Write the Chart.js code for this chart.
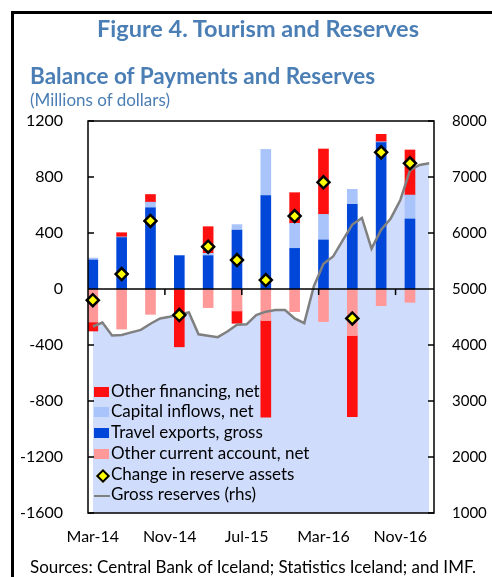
<!DOCTYPE html>
<html>
<head>
<meta charset="utf-8">
<script src="https://cdn.jsdelivr.net/npm/chart.js@4.4.1/dist/chart.umd.min.js"></script>
<style>
  html, body { margin: 0; padding: 0; background: #fff; }
  body { width: 492px; height: 577px; position: relative; overflow: hidden; font-family: Lato, sans-serif; }
  #frame { position: absolute; left: 11px; top: 11px; width: 600px; height: 700px; border-left: 3px solid #000; border-top: 3px solid #000; box-sizing: border-box; }
  #wrap { position: absolute; left: 0; top: 0; width: 492px; height: 577px; }
  .txt { position: absolute; white-space: nowrap; color: #4a7eb4; line-height: 1.2; }
  #title { left: 0; width: 516px; text-align: center; top: 14px; font-size: 23.5px; font-weight: 700; }
  #subtitle { left: 30px; top: 61.5px; font-size: 22.5px; font-weight: 700; }
  #units { left: 30px; top: 89.5px; font-size: 17px; }
  #source { left: 30px; top: 557px; font-size: 17px; color: #000; }
  #legend { position: absolute; left: 94px; top: 0; }
  .row { position: absolute; left: 0; height: 20px; line-height: 20px; font-size: 17px; color: #000; white-space: nowrap; padding-left: 17px; }
  .mk { position: absolute; left: 0; }
</style>
</head>
<body>
<div id="frame"></div>
<div id="wrap"><canvas id="bop-chart"></canvas></div>
<div class="txt" id="title">Figure 4. Tourism and Reserves</div>
<div class="txt" id="subtitle">Balance of Payments and Reserves</div>
<div class="txt" id="units">(Millions of dollars)</div>
<div class="txt" id="source">Sources: Central Bank of Iceland; Statistics Iceland; and IMF.</div>
<div id="legend"></div>
<script>
const months = ['Mar-14', 'Apr-14', 'May-14', 'Jun-14', 'Jul-14', 'Aug-14', 'Sep-14', 'Oct-14', 'Nov-14', 'Dec-14', 'Jan-15', 'Feb-15',
  'Mar-15', 'Apr-15', 'May-15', 'Jun-15', 'Jul-15', 'Aug-15', 'Sep-15', 'Oct-15', 'Nov-15', 'Dec-15', 'Jan-16', 'Feb-16',
  'Mar-16', 'Apr-16', 'May-16', 'Jun-16', 'Jul-16', 'Aug-16', 'Sep-16', 'Oct-16', 'Nov-16', 'Dec-16', 'Jan-17', 'Feb-17'];
const quarters = ['Mar-14', 'Jun-14', 'Sep-14', 'Dec-14', 'Mar-15', 'Jun-15', 'Sep-15', 'Dec-15', 'Mar-16', 'Jun-16', 'Sep-16', 'Dec-16'];

const travelExports = [207, 367, 580, 238, 238, 420, 667, 290, 350, 605, 1045, 500];
const capitalInflows = [14, 5, 40, 0, 17, 40, 330, 179, 183, 107, 7, 171];
const otherCurrent = [-236, -286, -181, -3, -133, -157, -226, -162, -233, -333, -119, -95];
const otherFinancing = [-64, 30, 55, -410, 190, -88, -690, 219, 467, -579, 53, 322];
const reserveChange = [-80, 107, 486, -186, 302, 207, 64, 521, 762, -210, 976, 898];
const grossReserves = [4330, 4400, 4170, 4180, 4225, 4270, 4380, 4475, 4505, 4550, 4580, 4190,
  4165, 4140, 4240, 4360, 4370, 4535, 4595, 4625, 4625, 4475, 4390, 5050,
  5450, 5580, 5870, 6150, 6270, 5720, 6060, 6260, 6590, 7120, 7215, 7245];

const byQuarter = (vals) => quarters.map((q, i) => ({ x: q, y: vals[i] }));

Chart.defaults.font.family = 'Lato, sans-serif';
Chart.defaults.font.size = 15;
Chart.defaults.color = '#000';

const barBase = { type: 'bar', stack: 'bop', barThickness: 10, borderWidth: 0, order: 2 };

const datasets = [
  { ...barBase, label: 'Travel exports, gross', data: byQuarter(travelExports), backgroundColor: '#0047d9' },
  { ...barBase, label: 'Capital inflows, net', data: byQuarter(capitalInflows), backgroundColor: '#a9c4fb' },
  { ...barBase, label: 'Other current account, net', data: byQuarter(otherCurrent), backgroundColor: '#ff9999' },
  { ...barBase, label: 'Other financing, net', data: byQuarter(otherFinancing), backgroundColor: '#ff1010' },
  {
    type: 'line', label: 'Change in reserve assets', data: byQuarter(reserveChange), stack: 'dots',
    showLine: false, pointStyle: 'rectRot', pointRadius: 6, pointHoverRadius: 6,
    pointBackgroundColor: '#ffff00', pointBorderColor: '#000', pointBorderWidth: 2.5, order: 0,
  },
  {
    type: 'line', label: 'Gross reserves (rhs)', data: grossReserves, yAxisID: 'y1', stack: 'res',
    borderColor: '#808080', borderWidth: 2.5, pointRadius: 0, tension: 0,
    fill: 'start', backgroundColor: '#cfdcfc', order: 1,
  },
];

const framePlugin = {
  id: 'framePlugin',
  afterDatasetsDraw(chart) {
    const { ctx, chartArea: a, scales } = chart;
    const x = scales.x;
    const y0 = scales.y.getPixelForValue(0);
    ctx.save();
    ctx.strokeStyle = '#000';
    ctx.lineWidth = 1.5;
    ctx.strokeRect(a.left, a.top, a.right - a.left, a.bottom - a.top);
    ctx.beginPath();
    ctx.moveTo(a.left, y0);
    ctx.lineTo(a.right, y0);
    scales.y.ticks.forEach((t) => {
      const py = scales.y.getPixelForValue(t.value);
      ctx.moveTo(a.left, py);
      ctx.lineTo(a.left + 6, py);
    });
    scales.y1.ticks.forEach((t) => {
      const py = scales.y1.getPixelForValue(t.value);
      ctx.moveTo(a.right, py);
      ctx.lineTo(a.right - 6, py);
    });
    for (let i = 8; i < months.length; i += 8) {
      const px = (x.getPixelForTick(i - 1) + x.getPixelForTick(i)) / 2;
      ctx.moveTo(px, y0);
      ctx.lineTo(px, y0 + 6);
    }
    ctx.stroke();
    ctx.restore();
  },
};

const chart = new Chart(document.getElementById('bop-chart').getContext('2d'), {
  data: { labels: months, datasets },
  options: {
    responsive: true,
    maintainAspectRatio: false,
    animation: false,
    layout: { padding: { top: 121, left: 0, right: 0, bottom: 0 } },
    plugins: {
      legend: { display: false },
      tooltip: { enabled: false },
      filler: { drawTime: 'beforeDatasetsDraw' },
    },
    scales: {
      x: {
        stacked: true,
        offset: true,
        grid: { display: false },
        border: { display: false },
        ticks: {
          autoSkip: false,
          maxRotation: 0,
          padding: 6,
          font: { size: 16 },
          callback: (v, i) => (i % 8 === 0 ? months[i] : ''),
        },
        afterFit: (s) => { s.height = 64; },
      },
      y: {
        position: 'left',
        stacked: true,
        min: -1600,
        max: 1200,
        grid: { display: false },
        border: { display: false },
        ticks: { stepSize: 400, padding: 17, font: { size: 16 }, callback: (v) => String(v) },
        afterFit: (s) => { s.width = 88; },
      },
      y1: {
        position: 'right',
        min: 1000,
        max: 8000,
        grid: { display: false },
        border: { display: false },
        ticks: { stepSize: 1000, padding: 10, callback: (v) => String(v) },
        afterFit: (s) => { s.width = 58; },
      },
    },
  },
  plugins: [framePlugin],
});

// legend drawn inside the plot, bottom left
const legendItems = [
  { label: 'Other financing, net', kind: 'box', color: '#ff1010' },
  { label: 'Capital inflows, net', kind: 'box', color: '#a9c4fb' },
  { label: 'Travel exports, gross', kind: 'box', color: '#0047d9' },
  { label: 'Other current account, net', kind: 'box', color: '#ff9999' },
  { label: 'Change in reserve assets', kind: 'diamond' },
  { label: 'Gross reserves (rhs)', kind: 'line' },
];
const legendEl = document.getElementById('legend');
legendItems.forEach((item, i) => {
  const baseline = 397.3 + 20.7 * i;
  const row = document.createElement('div');
  row.className = 'row';
  row.style.top = (baseline - 16.6) + 'px';
  const mk = document.createElement('div');
  mk.className = 'mk';
  if (item.kind === 'box') {
    Object.assign(mk.style, { top: '6px', width: '15px', height: '10px', background: item.color });
  } else if (item.kind === 'diamond') {
    Object.assign(mk.style, { left: '4px', top: '7px', width: '6px', height: '6px', background: '#ffff00',
      border: '2px solid #000', transform: 'rotate(45deg)' });
  } else {
    Object.assign(mk.style, { top: '10.5px', width: '16px', height: '2px', background: '#808080' });
  }
  row.appendChild(mk);
  row.appendChild(document.createTextNode(item.label));
  legendEl.appendChild(row);
});
</script>
</body>
</html>
